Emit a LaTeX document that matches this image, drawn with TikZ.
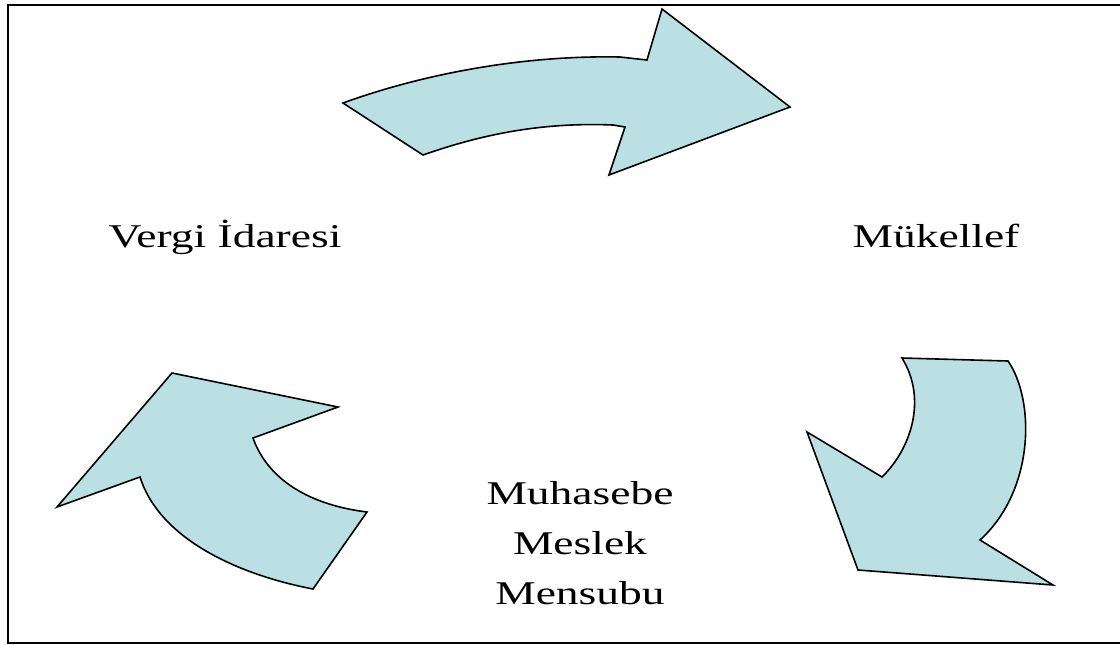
\documentclass[tikz,border=0pt]{standalone}
\usepackage{fontspec}
\usepackage{tikz}
\newfontfamily\lblfont[FakeStretch=1.37]{Liberation Serif}
\definecolor{arrowblue}{RGB}{187,224,227}

\begin{document}
\begin{tikzpicture}[x=0.5pt, y=-0.5pt,
    bent/.style={fill=arrowblue, draw=black, line width=0.8pt, line join=miter},
    party/.style={font=\lblfont\fontsize{16.6}{25}\selectfont, inner sep=0pt}]
    \useasboundingbox (0,0) rectangle (1120,644);
    \clip (0,0) rectangle (1120,644);
    \draw[line width=1.2pt] (8,5) rectangle (1140,643);
    \node[party, anchor=base] (idare) at (225,247) {Vergi İdaresi};
    \node[party, anchor=base] (mukellef) at (936,247) {Mükellef};
    \node[party, anchor=center, align=center] (mensup) at (580,543)
      {Muhasebe\\Meslek\\Mensubu};
    \draw[bent] (343,103) .. controls (420,75) and (520,55) .. (620,57)
      -- (647,60) -- (662,9) -- (790,107) -- (609,175) -- (625,127)
      -- (613,125) .. controls (540,122) and (480,135) .. (423,155) -- cycle;
    \draw[bent] (902,358) -- (1008,361) .. controls (1035,400) and (1035,490) .. (980,540)
      -- (1053,585) -- (858,570) -- (807,432) -- (882,477)
      .. controls (910,450) and (928,400) .. cycle;
    \draw[bent] (172,373) -- (338,407) -- (253,438)
      .. controls (268,480) and (310,505) .. (367,512) -- (313,589)
      .. controls (240,575) and (160,540) .. (140,477) -- (57,507) -- cycle;
  \end{tikzpicture}
\end{document}
